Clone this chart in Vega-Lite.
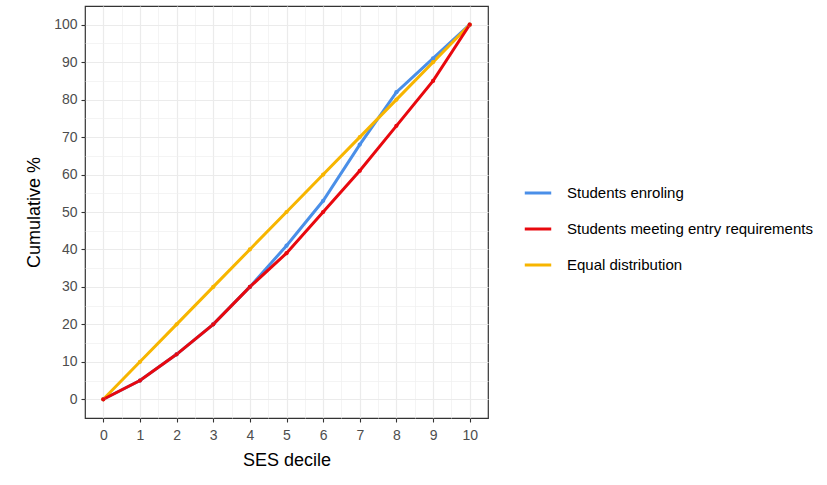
{
  "$schema": "https://vega.github.io/schema/vega-lite/v6.json",
  "width": 403,
  "height": 412,
  "padding": {"left": 25, "top": 6, "right": 5, "bottom": 5},
  "autosize": {"type": "pad"},
  "config": {
    "font": "Liberation Sans",
    "view": {"stroke": "#333333", "strokeWidth": 1.2},
    "axis": {
      "labelFont": "Liberation Sans",
      "titleFont": "Liberation Sans",
      "labelFontSize": 14,
      "labelColor": "#4D4D4D",
      "titleFontSize": 18,
      "titleFontWeight": "normal",
      "titleColor": "#000000",
      "tickColor": "#333333",
      "tickSize": 4,
      "tickWidth": 1.1,
      "domain": false
    },
    "legend": {
      "labelFont": "Liberation Sans",
      "labelFontSize": 15,
      "labelColor": "#000000",
      "labelLimit": 400
    }
  },
  "data": {
    "values": [
      {"decile": 0, "pct": 0, "series": "Students enroling"},
      {"decile": 1, "pct": 5, "series": "Students enroling"},
      {"decile": 2, "pct": 12, "series": "Students enroling"},
      {"decile": 3, "pct": 20, "series": "Students enroling"},
      {"decile": 4, "pct": 30, "series": "Students enroling"},
      {"decile": 5, "pct": 41, "series": "Students enroling"},
      {"decile": 6, "pct": 53, "series": "Students enroling"},
      {"decile": 7, "pct": 68, "series": "Students enroling"},
      {"decile": 8, "pct": 82, "series": "Students enroling"},
      {"decile": 9, "pct": 91, "series": "Students enroling"},
      {"decile": 10, "pct": 100, "series": "Students enroling"},
      {"decile": 0, "pct": 0, "series": "Equal distribution"},
      {"decile": 1, "pct": 10, "series": "Equal distribution"},
      {"decile": 2, "pct": 20, "series": "Equal distribution"},
      {"decile": 3, "pct": 30, "series": "Equal distribution"},
      {"decile": 4, "pct": 40, "series": "Equal distribution"},
      {"decile": 5, "pct": 50, "series": "Equal distribution"},
      {"decile": 6, "pct": 60, "series": "Equal distribution"},
      {"decile": 7, "pct": 70, "series": "Equal distribution"},
      {"decile": 8, "pct": 80, "series": "Equal distribution"},
      {"decile": 9, "pct": 90, "series": "Equal distribution"},
      {"decile": 10, "pct": 100, "series": "Equal distribution"},
      {"decile": 0, "pct": 0, "series": "Students meeting entry requirements"},
      {"decile": 1, "pct": 5, "series": "Students meeting entry requirements"},
      {"decile": 2, "pct": 12, "series": "Students meeting entry requirements"},
      {"decile": 3, "pct": 20, "series": "Students meeting entry requirements"},
      {"decile": 4, "pct": 30, "series": "Students meeting entry requirements"},
      {"decile": 5, "pct": 39, "series": "Students meeting entry requirements"},
      {"decile": 6, "pct": 50, "series": "Students meeting entry requirements"},
      {"decile": 7, "pct": 61, "series": "Students meeting entry requirements"},
      {"decile": 8, "pct": 73, "series": "Students meeting entry requirements"},
      {"decile": 9, "pct": 85, "series": "Students meeting entry requirements"},
      {"decile": 10, "pct": 100, "series": "Students meeting entry requirements"}
    ]
  },
  "layer": [
    {
      "mark": {"type": "line", "opacity": 0},
      "encoding": {
        "x": {
          "field": "decile", "type": "quantitative",
          "scale": {"domain": [-0.5, 10.5], "nice": false, "zero": false},
          "axis": {
            "orient": "bottom",
            "values": [0.5, 1.5, 2.5, 3.5, 4.5, 5.5, 6.5, 7.5, 8.5, 9.5],
            "grid": true, "gridColor": "#EFEFEF", "gridWidth": 0.7,
            "labels": false, "ticks": false, "title": null
          }
        },
        "y": {
          "field": "pct", "type": "quantitative",
          "scale": {"domain": [-5, 105], "nice": false, "zero": false},
          "axis": {
            "orient": "left",
            "values": [5, 15, 25, 35, 45, 55, 65, 75, 85, 95],
            "grid": true, "gridColor": "#EFEFEF", "gridWidth": 0.7,
            "labels": false, "ticks": false, "title": null
          }
        },
        "detail": {"field": "series"}
      }
    },
    {
      "mark": {"type": "line", "strokeWidth": 3, "point": {"filled": true, "size": 18}},
      "encoding": {
        "x": {
          "field": "decile", "type": "quantitative",
          "axis": {
            "orient": "bottom",
            "values": [0, 1, 2, 3, 4, 5, 6, 7, 8, 9, 10],
            "grid": true, "gridColor": "#EBEBEB", "gridWidth": 1.2,
            "title": "SES decile", "titlePadding": 9, "labelPadding": 6
          }
        },
        "y": {
          "field": "pct", "type": "quantitative",
          "axis": {
            "orient": "left",
            "values": [0, 10, 20, 30, 40, 50, 60, 70, 80, 90, 100],
            "grid": true, "gridColor": "#EBEBEB", "gridWidth": 1.2,
            "title": "Cumulative %", "titlePadding": 10, "labelPadding": 4
          }
        },
        "color": {
          "field": "series", "type": "nominal",
          "scale": {
            "domain": ["Students enroling", "Students meeting entry requirements", "Equal distribution"],
            "range": ["#4A8FE8", "#E8080E", "#F7B500"]
          },
          "legend": {
            "title": null,
            "orient": "none",
            "legendX": 438,
            "legendY": 172,
            "symbolType": "stroke",
            "symbolStrokeWidth": 3,
            "symbolSize": 700,
            "rowPadding": 13,
            "labelOffset": 14
          }
        }
      }
    }
  ],
  "resolve": {"axis": {"x": "independent", "y": "independent"}}
}
